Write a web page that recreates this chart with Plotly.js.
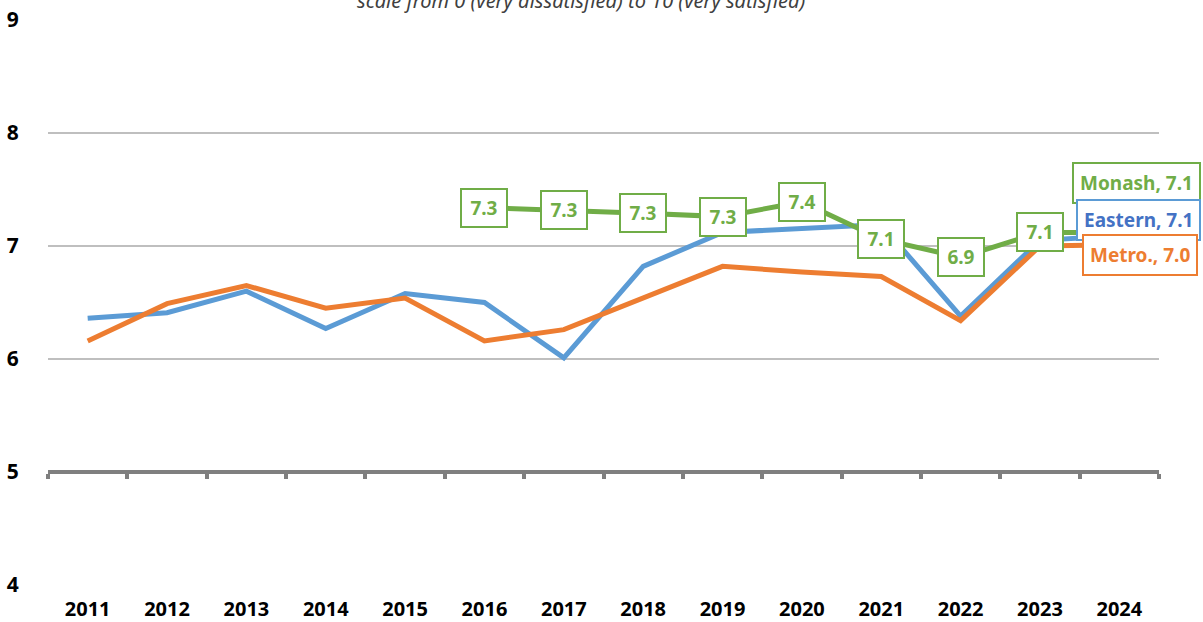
<!DOCTYPE html>
<html>
<head>
<meta charset="utf-8">
<script src="https://cdn.plot.ly/plotly-3.0.1.min.js"></script>
<style>html,body{margin:0;padding:0;background:#fff;}#chart{width:1203px;height:622px;}</style>
</head>
<body>
<div id="chart"></div>
<script>
const years = ['2011','2012','2013','2014','2015','2016','2017','2018','2019','2020','2021','2022','2023','2024'];
const eastern = [6.36, 6.41, 6.60, 6.27, 6.58, 6.50, 6.01, 6.82, 7.12, 7.16, 7.19, 6.38, 7.05, 7.09];
const metro   = [6.16, 6.49, 6.65, 6.45, 6.54, 6.16, 6.26, 6.54, 6.82, 6.77, 6.73, 6.34, 7.00, 7.01];
const monash  = [null, null, null, null, null, 7.34, 7.32, 7.29, 7.26, 7.39, 7.06, 6.90, 7.12, 7.12];
const seriesNames = ['Eastern', 'Metro.', 'Monash'];
const subtitle = 'scale from 0 (very dissatisfied) to 10 (very satisfied)';
const yTicks = [4, 5, 6, 7, 8, 9];

const BLUE = '#5b9bd5', ORANGE = '#ed7d31', GREEN = '#70ad47';
const FONT = 'Noto Sans, Open Sans, sans-serif';

const traces = [
  {x: years, y: eastern, name: seriesNames[0], mode: 'lines', line: {color: BLUE, width: 5}, hoverinfo: 'skip'},
  {x: years, y: metro, name: seriesNames[1], mode: 'lines', line: {color: ORANGE, width: 5}, hoverinfo: 'skip'},
  {x: years, y: monash, name: seriesNames[2], mode: 'lines', line: {color: GREEN, width: 5}, connectgaps: false, hoverinfo: 'skip'},
  // invisible trace to give the reference axis at 5 its categories
  {x: years, y: eastern, xaxis: 'x2', mode: 'lines', opacity: 0, line: {width: 1}, hoverinfo: 'skip', showlegend: false}
];

const annotations = [];
const last = years.length - 1;
monash.forEach((v, i) => {
  if (v === null || i === last) return;
  annotations.push({
    x: i, y: v, xref: 'x', yref: 'y', showarrow: false,
    text: v.toFixed(1),
    font: {family: FONT, size: 19, color: GREEN, weight: 'bold'},
    bgcolor: '#ffffff', bordercolor: GREEN, borderwidth: 2, borderpad: 6,
    width: 32, height: 24
  });
});
const endLabels = [
  {name: seriesNames[2], v: monash[last], color: GREEN, xs: 17, ys: 49},
  {name: seriesNames[0], v: eastern[last], color: '#4472c4', border: BLUE, xs: 19, ys: 16},
  {name: seriesNames[1], v: metro[last], color: ORANGE, xs: 21, ys: -10}
];
endLabels.forEach(l => {
  annotations.push({
    x: last, y: l.v, xref: 'x', yref: 'y', showarrow: false,
    xshift: l.xs, yshift: l.ys,
    text: l.name + ', ' + l.v.toFixed(1),
    font: {family: FONT, size: 19, color: l.color, weight: 'bold'},
    bgcolor: '#ffffff', bordercolor: l.border || l.color, borderwidth: 2, borderpad: 6
  });
});
annotations.push({
  xref: 'paper', yref: 'paper', x: 0.48, y: 1.035, xanchor: 'center', yanchor: 'middle',
  showarrow: false, text: '<i>' + subtitle + '</i>',
  font: {family: FONT, size: 20, color: '#404040'}
});

const layout = {
  width: 1203, height: 622,
  margin: {l: 48, r: 44, t: 20, b: 37},
  paper_bgcolor: '#ffffff', plot_bgcolor: '#ffffff',
  showlegend: false,
  xaxis: {
    type: 'category', categoryarray: years, range: [-0.5, years.length - 0.5],
    showgrid: false, zeroline: false, showline: false,
    ticks: 'outside', ticklen: 6, tickcolor: 'rgba(0,0,0,0)',
    tickfont: {family: FONT, size: 20, color: '#000000', weight: 'bold'},
    fixedrange: true
  },
  xaxis2: {
    type: 'category', categoryarray: years, range: [-0.5, years.length - 0.5],
    overlaying: 'x', anchor: 'free', position: (5 - 4) / (9 - 4), side: 'bottom',
    showgrid: false, zeroline: false, showline: true, linecolor: '#7f7f7f', linewidth: 4,
    ticks: 'outside', tickson: 'boundaries', ticklen: 5, tickwidth: 4, tickcolor: '#7f7f7f',
    showticklabels: false, fixedrange: true
  },
  yaxis: {
    range: [4, 9], tickvals: yTicks, ticktext: yTicks.map(String),
    showgrid: true, gridcolor: '#bfbfbf', gridwidth: 1.3, zeroline: false, showline: false,
    ticks: 'outside', ticklen: 24, tickcolor: 'rgba(0,0,0,0)',
    tickfont: {family: FONT, size: 21, color: '#000000', weight: 'bold'},
    fixedrange: true
  },
  annotations: annotations
};

Plotly.newPlot('chart', traces, layout, {displayModeBar: false, staticPlot: true});
</script>
</body>
</html>
